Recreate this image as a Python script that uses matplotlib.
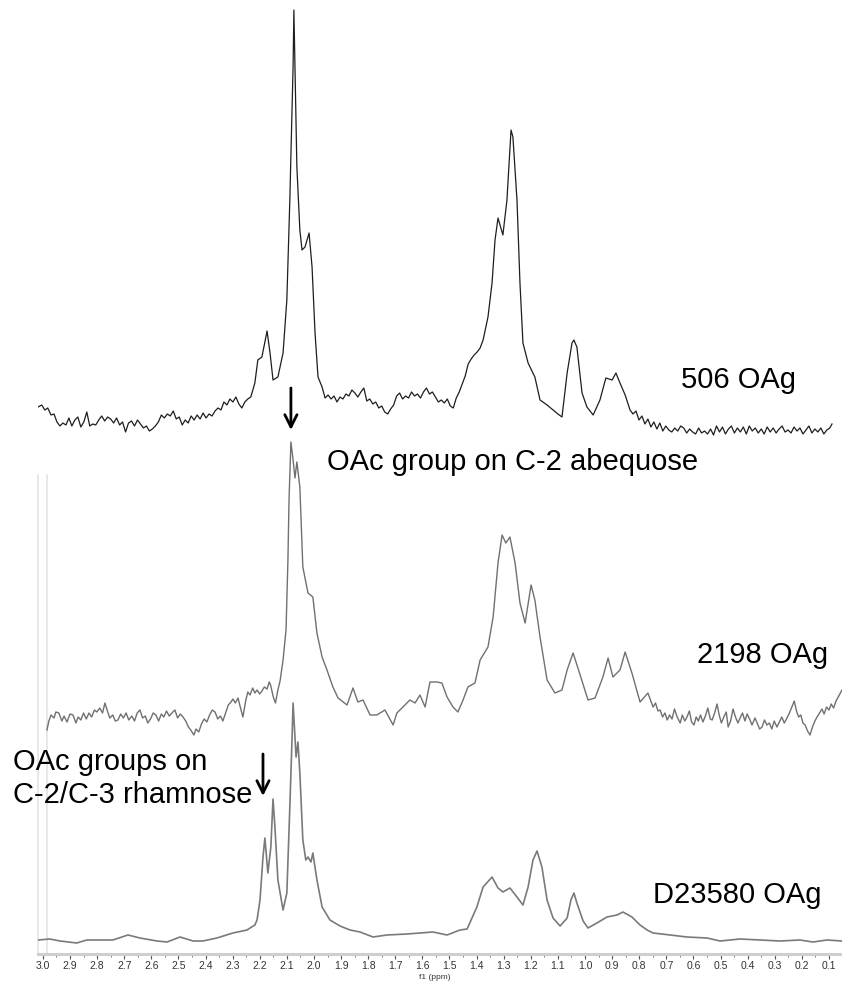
import numpy as np
import matplotlib
matplotlib.use("Agg")
import matplotlib.pyplot as plt
from matplotlib.ticker import MultipleLocator, FormatStrFormatter

# 1H NMR spectra: chemical shift (ppm) and intensity (a.u.)
ppm_506 = [3.018, 3.004, 2.993, 2.982, 2.970, 2.959, 2.948, 2.937, 2.926, 2.915,
           2.904, 2.893, 2.882, 2.871, 2.860, 2.849, 2.838, 2.827, 2.816, 2.805,
           2.794, 2.783, 2.772, 2.761, 2.750, 2.739, 2.728, 2.717, 2.706, 2.695,
           2.684, 2.673, 2.662, 2.651, 2.640, 2.629, 2.618, 2.607, 2.596, 2.585,
           2.574, 2.563, 2.552, 2.541, 2.530, 2.519, 2.508, 2.497, 2.486, 2.475,
           2.464, 2.453, 2.442, 2.431, 2.420, 2.409, 2.398, 2.387, 2.376, 2.365,
           2.354, 2.343, 2.332, 2.321, 2.310, 2.299, 2.288, 2.277, 2.266, 2.255,
           2.244, 2.233, 2.218, 2.207, 2.192, 2.173, 2.162, 2.151, 2.133, 2.114,
           2.100, 2.089, 2.077, 2.074, 2.070, 2.063, 2.052, 2.044, 2.033, 2.018,
           2.007, 1.996, 1.985, 1.970, 1.959, 1.948, 1.937, 1.926, 1.915, 1.904,
           1.893, 1.882, 1.871, 1.860, 1.849, 1.838, 1.827, 1.816, 1.805, 1.794,
           1.783, 1.772, 1.761, 1.750, 1.739, 1.728, 1.717, 1.706, 1.695, 1.684,
           1.673, 1.662, 1.651, 1.640, 1.629, 1.618, 1.607, 1.596, 1.585, 1.574,
           1.563, 1.552, 1.541, 1.530, 1.519, 1.508, 1.497, 1.486, 1.475, 1.464,
           1.453, 1.442, 1.431, 1.420, 1.409, 1.398, 1.387, 1.376, 1.358, 1.343,
           1.332, 1.321, 1.303, 1.288, 1.273, 1.266, 1.251, 1.240, 1.229, 1.210,
           1.185, 1.166, 1.140, 1.118, 1.100, 1.085, 1.066, 1.048, 1.041, 1.030,
           1.011, 0.993, 0.970, 0.945, 0.923, 0.900, 0.886, 0.871, 0.852, 0.834,
           0.823, 0.812, 0.801, 0.790, 0.779, 0.768, 0.757, 0.746, 0.735, 0.724,
           0.713, 0.702, 0.691, 0.680, 0.669, 0.658, 0.647, 0.636, 0.625, 0.614,
           0.603, 0.592, 0.581, 0.570, 0.559, 0.548, 0.537, 0.526, 0.515, 0.504,
           0.493, 0.482, 0.471, 0.460, 0.449, 0.438, 0.427, 0.416, 0.405, 0.394,
           0.383, 0.372, 0.361, 0.350, 0.339, 0.328, 0.317, 0.306, 0.295, 0.284,
           0.273, 0.262, 0.251, 0.240, 0.229, 0.218, 0.207, 0.196, 0.185, 0.174,
           0.163, 0.152, 0.141, 0.130, 0.119, 0.108, 0.097, 0.089]
int_506 = [25, 27, 22, 24, 17, 18, 10, 6, 9, 7,
           14, 6, 12, 15, 5, 10, 20, 6, 8, 7,
           12, 16, 11, 15, 13, 9, 14, 7, 10, 0,
           9, 11, 6, 12, 8, 4, 6, 1, 3, 6,
           10, 17, 14, 18, 16, 21, 13, 15, 7, 12,
           9, 16, 12, 17, 13, 19, 14, 18, 16, 21,
           24, 22, 30, 27, 33, 30, 35, 28, 24, 30,
           33, 35, 49, 72, 75, 101, 79, 52, 55, 79,
           132, 232, 365, 422, 365, 265, 202, 182, 185, 199,
           165, 99, 55, 45, 34, 37, 33, 36, 30, 35,
           33, 38, 36, 42, 39, 35, 40, 44, 31, 33,
           28, 30, 24, 26, 20, 18, 23, 27, 36, 39,
           33, 36, 34, 40, 36, 38, 34, 40, 44, 38,
           40, 35, 30, 32, 29, 33, 26, 24, 34, 40,
           48, 56, 68, 73, 77, 80, 84, 92, 115, 149,
           192, 214, 197, 232, 302, 295, 232, 149, 89, 69,
           55, 32, 27, 22, 18, 15, 59, 89, 92, 85,
           39, 25, 17, 32, 54, 52, 59, 49, 37, 22,
           18, 21, 12, 16, 8, 13, 5, 10, 3, 9,
           1, 6, 2, 0, 4, 1, 6, 4, -1, 3,
           0, -2, 4, -1, 1, -2, 3, -3, 6, 0,
           5, -2, 3, 6, -1, 4, 0, 5, -2, 6,
           1, 4, -1, 3, -2, 5, 0, 4, -1, 3,
           6, 0, 2, -1, 5, 1, 4, -2, 2, 6,
           -1, 3, 0, 4, -2, 2, 4, 8]

ppm_2198 = [2.985, 2.978, 2.970, 2.959, 2.952, 2.941, 2.930, 2.922, 2.911, 2.900,
            2.889, 2.878, 2.870, 2.860, 2.850, 2.840, 2.830, 2.820, 2.810, 2.801,
            2.790, 2.780, 2.771, 2.762, 2.753, 2.742, 2.733, 2.723, 2.713, 2.703,
            2.693, 2.683, 2.672, 2.662, 2.652, 2.642, 2.632, 2.622, 2.613, 2.603,
            2.593, 2.583, 2.573, 2.563, 2.554, 2.544, 2.534, 2.524, 2.513, 2.503,
            2.493, 2.483, 2.473, 2.463, 2.452, 2.443, 2.435, 2.425, 2.415, 2.405,
            2.395, 2.385, 2.375, 2.365, 2.355, 2.345, 2.336, 2.326, 2.316, 2.306,
            2.299, 2.290, 2.280, 2.270, 2.262, 2.252, 2.244, 2.236, 2.226, 2.218,
            2.210, 2.200, 2.192, 2.183, 2.173, 2.165, 2.160, 2.150, 2.142, 2.133,
            2.125, 2.114, 2.103, 2.096, 2.092, 2.085, 2.077, 2.070, 2.063, 2.052,
            2.041, 2.022, 2.004, 1.989, 1.970, 1.952, 1.930, 1.911, 1.878, 1.856,
            1.838, 1.819, 1.793, 1.768, 1.738, 1.708, 1.694, 1.672, 1.646, 1.627,
            1.609, 1.590, 1.572, 1.546, 1.528, 1.509, 1.487, 1.469, 1.450, 1.432,
            1.406, 1.387, 1.358, 1.339, 1.321, 1.306, 1.292, 1.277, 1.258, 1.240,
            1.221, 1.199, 1.185, 1.166, 1.140, 1.111, 1.085, 1.066, 1.044, 1.018,
            0.989, 0.963, 0.934, 0.915, 0.897, 0.871, 0.852, 0.827, 0.797, 0.768,
            0.749, 0.740, 0.731, 0.723, 0.714, 0.705, 0.697, 0.688, 0.679, 0.670,
            0.660, 0.649, 0.641, 0.632, 0.624, 0.615, 0.607, 0.598, 0.590, 0.582,
            0.574, 0.565, 0.556, 0.547, 0.538, 0.531, 0.522, 0.513, 0.505, 0.497,
            0.488, 0.479, 0.472, 0.463, 0.454, 0.445, 0.436, 0.428, 0.419, 0.410,
            0.402, 0.393, 0.384, 0.373, 0.365, 0.356, 0.347, 0.338, 0.329, 0.320,
            0.311, 0.302, 0.292, 0.283, 0.274, 0.265, 0.255, 0.246, 0.237, 0.228,
            0.220, 0.212, 0.204, 0.196, 0.188, 0.179, 0.170, 0.161, 0.152, 0.144,
            0.135, 0.126, 0.118, 0.109, 0.100, 0.092, 0.083, 0.074, 0.066, 0.058,
            0.052]
int_2198 = [5, 14, 20, 17, 23, 22, 14, 19, 13, 21,
            20, 12, 18, 15, 22, 16, 22, 18, 25, 23,
            27, 22, 32, 24, 17, 20, 14, 15, 21, 17,
            22, 15, 19, 14, 22, 25, 17, 19, 12, 16,
            22, 20, 14, 21, 18, 24, 19, 22, 25, 17,
            21, 18, 14, 8, 4, 0, 6, 3, 11, 16,
            13, 20, 25, 23, 16, 19, 14, 22, 30, 33,
            36, 32, 37, 26, 18, 34, 43, 40, 47, 42,
            45, 41, 44, 48, 46, 53, 50, 38, 32, 45,
            54, 75, 105, 175, 235, 293, 275, 257, 273, 248,
            168, 142, 138, 102, 78, 65, 48, 37, 30, 47,
            33, 35, 20, 20, 25, 10, 22, 28, 35, 32,
            40, 28, 53, 53, 52, 38, 28, 23, 35, 48,
            52, 75, 88, 118, 172, 200, 192, 198, 172, 132,
            112, 150, 135, 98, 55, 42, 45, 65, 82, 60,
            35, 37, 58, 77, 58, 65, 83, 62, 33, 42,
            28, 32, 24, 25, 18, 22, 15, 20, 16, 26,
            18, 12, 20, 14, 18, 24, 13, 10, 18, 14,
            20, 13, 19, 27, 16, 15, 22, 31, 20, 12,
            18, 23, 8, 14, 26, 18, 12, 17, 22, 14,
            21, 16, 10, 17, 12, 6, 8, 15, 10, 12,
            6, 14, 8, 13, 18, 12, 17, 22, 28, 34,
            24, 18, 20, 12, 10, 4, 0, 8, 14, 18,
            22, 26, 21, 28, 25, 31, 27, 34, 38, 42,
            45]

ppm_d23580 = [3.018, 2.974, 2.937, 2.875, 2.838, 2.790, 2.742, 2.686, 2.642, 2.579,
              2.542, 2.494, 2.446, 2.410, 2.358, 2.299, 2.247, 2.218, 2.210, 2.199,
              2.188, 2.181, 2.170, 2.159, 2.151, 2.144, 2.133, 2.114, 2.100, 2.089,
              2.081, 2.077, 2.066, 2.059, 2.052, 2.041, 2.030, 2.022, 2.011, 2.004,
              1.989, 1.970, 1.941, 1.904, 1.867, 1.830, 1.782, 1.731, 1.657, 1.609,
              1.561, 1.509, 1.461, 1.435, 1.399, 1.376, 1.343, 1.321, 1.303, 1.277,
              1.251, 1.229, 1.210, 1.192, 1.177, 1.159, 1.140, 1.118, 1.092, 1.066,
              1.052, 1.041, 1.030, 1.007, 0.989, 0.956, 0.919, 0.882, 0.860, 0.827,
              0.797, 0.771, 0.749, 0.686, 0.624, 0.550, 0.502, 0.428, 0.354, 0.280,
              0.207, 0.159, 0.107, 0.052]
int_d23580 = [3, 4, 2, 0, 3, 3, 3, 8, 5, 2,
              1, 6, 2, 2, 5, 10, 13, 18, 23, 43,
              86, 105, 70, 96, 144, 116, 63, 33, 50, 136,
              203, 240, 186, 201, 170, 103, 83, 86, 81, 90,
              63, 36, 23, 17, 13, 11, 6, 8, 9, 10,
              11, 8, 13, 14, 36, 56, 66, 55, 51, 55,
              46, 38, 56, 83, 92, 76, 43, 25, 17, 25,
              43, 50, 40, 22, 15, 20, 26, 28, 31, 26,
              18, 13, 10, 8, 6, 5, 2, 4, 3, 2,
              3, 1, 3, 2]

labels = ["506 OAg", "2198 OAg", "D23580 OAg"]
baselines = [522, 219, 11]          # vertical stacking offsets
colors = ["#1e1e1e", "#707070", "#7a7a7a"]
widths = [0.9, 1.0, 1.2]

plt.rcParams['font.family'] = ['Liberation Sans', 'DejaVu Sans']

fig = plt.figure(figsize=(8.42, 9.81), dpi=100)
ax = fig.add_axes([38 / 842, 27 / 981, 804 / 842, 954 / 981])
ax.set_xlim(3.018, 0.052)
ax.set_ylim(0, 954)

# faint frame remnants on the left
for x0 in (3.018, 2.985):
    ax.plot([x0, x0], [0, 479], color="#e4e4e4", lw=1.2, zorder=0, clip_on=False)

series = [(ppm_506, int_506), (ppm_2198, int_2198), (ppm_d23580, int_d23580)]
for (p, v), b, c, w in zip(series, baselines, colors, widths):
    ax.plot(p, np.array(v) + b, color=c, lw=w)

fs = 21
ax.text(0.435, 566, labels[0], fontsize=fs, ha="center", va="baseline")
ax.text(0.587, 291, labels[1], fontsize=fs, ha="left", va="baseline")
ax.text(0.749, 51, labels[2], fontsize=fs, ha="left", va="baseline")
ax.text(1.952, 484, "OAc group on C-2 abequose", fontsize=fs, ha="left", va="baseline")
ax.text(3.111, 184, "OAc groups on", fontsize=fs, ha="left", va="baseline")
ax.text(3.111, 151, "C-2/C-3 rhamnose", fontsize=fs, ha="left", va="baseline")

arrow = dict(arrowstyle="->", color="black", lw=2, mutation_scale=22,
             shrinkA=0, shrinkB=0)
ax.annotate("", xy=(2.085, 524), xytext=(2.085, 566), arrowprops=arrow)
ax.annotate("", xy=(2.188, 158), xytext=(2.188, 200), arrowprops=arrow)

for s in ("top", "left", "right"):
    ax.spines[s].set_visible(False)
ax.spines["bottom"].set_color("#cfcfcf")
ax.spines["bottom"].set_linewidth(2.2)
ax.set_yticks([])
ax.xaxis.set_major_locator(MultipleLocator(0.1))
ax.xaxis.set_minor_locator(MultipleLocator(0.05))
ax.xaxis.set_major_formatter(FormatStrFormatter("%.1f"))
ax.tick_params(axis="x", which="major", length=3.5, width=0.8, color="#555555",
               labelsize=7.5, labelcolor="#333333", pad=1.5)
ax.tick_params(axis="x", which="minor", length=2, width=0.7, color="#777777")
fig.text(435 / 842, 0, "f1 (ppm)", fontsize=6, color="#333333",
         ha="center", va="bottom")

fig.savefig("out.png", dpi=100)
